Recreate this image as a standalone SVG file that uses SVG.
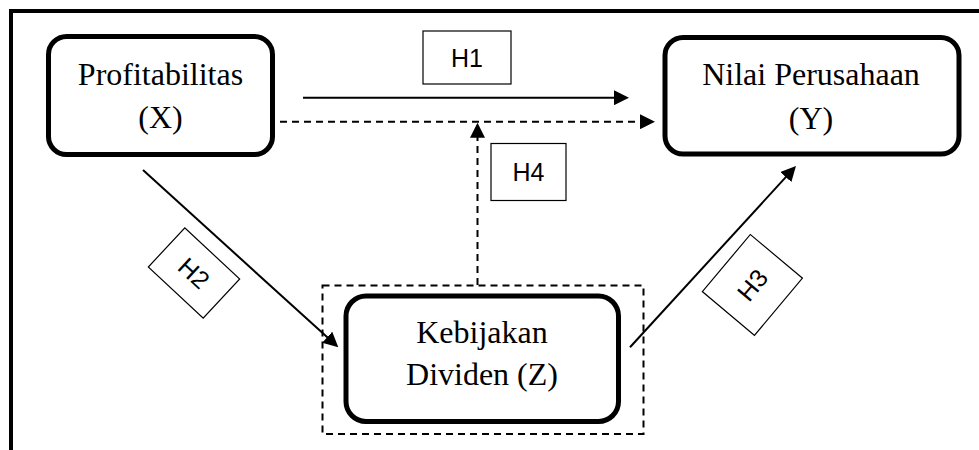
<svg xmlns="http://www.w3.org/2000/svg" width="979" height="450" viewBox="0 0 979 450">
  <style>
    .node { fill: #ffffff; stroke: #000000; stroke-width: 5; }
    .lbl { font-family: "Liberation Serif", "Times New Roman", serif; font-size: 32px; fill: #000000; text-anchor: middle; }
    .hbox { fill: #ffffff; stroke: #000000; stroke-width: 1.2; }
    .htxt { font-family: "Liberation Sans", Arial, sans-serif; font-size: 25px; fill: #000000; text-anchor: middle; }
    .edge { fill: none; stroke: #000000; stroke-width: 2; }
    .dash { stroke-dasharray: 7 5; }
  </style>
  <defs>
    <marker id="arrow" markerUnits="userSpaceOnUse" markerWidth="15" markerHeight="15" refX="5" refY="7.5" orient="auto">
      <path d="M0,0 L15,7.5 L0,15 Z" fill="#000000" stroke="none"/>
    </marker>
  </defs>

  <rect width="979" height="450" fill="#ffffff"/>

  <!-- outer frame (open to the right and bottom) -->
  <path d="M11,452 V11 H981" fill="none" stroke="#000000" stroke-width="4"/>

  <!-- connectors -->
  <g id="connectors">
    <line class="edge" x1="303" y1="97.7" x2="619" y2="97.7" marker-end="url(#arrow)"/>
    <line class="edge dash" x1="280" y1="121.7" x2="645" y2="121.7" marker-end="url(#arrow)"/>
    <line class="edge dash" x1="477.5" y1="285" x2="477.5" y2="132.7" marker-end="url(#arrow)"/>
    <line class="edge" x1="143" y1="170" x2="330.9" y2="340.6" marker-end="url(#arrow)"/>
    <line class="edge" x1="630" y1="347.3" x2="789.2" y2="173.4" marker-end="url(#arrow)"/>
    <rect class="edge dash" x="322.5" y="285.5" width="321" height="148.5"/>
  </g>

  <!-- hypothesis labels -->
  <g id="h1">
    <rect class="hbox" x="423" y="31" width="88" height="53"/>
    <text class="htxt" x="467" y="67">H1</text>
  </g>
  <g id="h4">
    <rect class="hbox" x="491" y="143.5" width="75" height="57"/>
    <text class="htxt" x="528.5" y="181">H4</text>
  </g>
  <g id="h2" transform="translate(194,273) rotate(43)">
    <rect class="hbox" x="-37.5" y="-26.75" width="75" height="53.5"/>
    <text class="htxt" x="0" y="9">H2</text>
  </g>
  <g id="h3" transform="translate(752.4,284.9) rotate(-50)">
    <rect class="hbox" x="-37.3" y="-34" width="74.6" height="68"/>
    <text class="htxt" x="0" y="9">H3</text>
  </g>

  <!-- variables -->
  <g id="profitabilitas">
    <rect class="node" x="48.5" y="36.5" width="224" height="118" rx="18"/>
    <text class="lbl" x="160.5" y="85">Profitabilitas</text>
    <text class="lbl" x="160.5" y="128">(X)</text>
  </g>
  <g id="nilai-perusahaan">
    <rect class="node" x="665" y="37.5" width="294" height="116.5" rx="18"/>
    <text class="lbl" x="811" y="85">Nilai Perusahaan</text>
    <text class="lbl" x="811" y="129">(Y)</text>
  </g>
  <g id="kebijakan-dividen">
    <rect class="node" x="346" y="296" width="272.5" height="125.5" rx="20"/>
    <text class="lbl" x="482" y="343">Kebijakan</text>
    <text class="lbl" x="482" y="385">Dividen (Z)</text>
  </g>
</svg>
